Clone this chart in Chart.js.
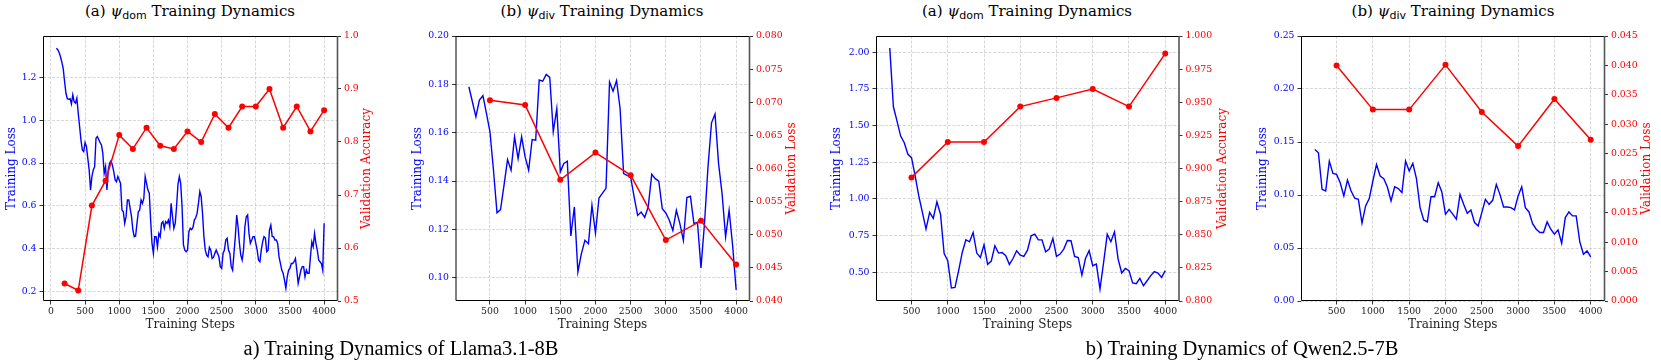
<!DOCTYPE html>
<html>
<head>
<meta charset="utf-8">
<script src="https://cdn.jsdelivr.net/npm/chart.js@4.4.1/dist/chart.umd.min.js"></script>
<style>
  body { margin: 0; background: #fff; }
  #wrap { position: relative; width: 1661px; height: 362px; overflow: hidden; background: #fff; }
  canvas { position: absolute; top: 0; }
  .ptitle { position: absolute; top: 2px; font-family: 'DejaVu Serif', serif; font-size: 15px; white-space: nowrap; transform: translateX(-50%); color: #000; }
  .ptitle i { font-family: 'DejaVu Serif', serif; }
  .ptitle sub { font-family: 'DejaVu Sans', sans-serif; font-size: 11px; vertical-align: -3px; }
  .caption { position: absolute; top: 337px; font-family: 'Liberation Serif', 'Times New Roman', serif; font-size: 20.5px; white-space: nowrap; transform: translateX(-50%); color: #000; }
</style>
</head>
<body>
<div id="wrap">
  <div class="ptitle" style="left:190px">(a) <i>ψ</i><sub>dom</sub> Training Dynamics</div>
  <div class="ptitle" style="left:602px">(b) <i>ψ</i><sub>div</sub> Training Dynamics</div>
  <div class="ptitle" style="left:1027px">(a) <i>ψ</i><sub>dom</sub> Training Dynamics</div>
  <div class="ptitle" style="left:1453px">(b) <i>ψ</i><sub>div</sub> Training Dynamics</div>
  <canvas id="llamaDom"></canvas>
  <canvas id="llamaDiv"></canvas>
  <canvas id="qwenDom"></canvas>
  <canvas id="qwenDiv"></canvas>
  <div class="caption" style="left:401px">a) Training Dynamics of Llama3.1-8B</div>
  <div class="caption" style="left:1242px">b) Training Dynamics of Qwen2.5-7B</div>
</div>
<script>
// ===========================
// Data
// ===========================

// Llama3.1-8B, psi_dom: training loss every 20 steps from 80 to 4000
const llamaDomLoss = [
  1.335, 1.328, 1.315, 1.295, 1.270, 1.240, 1.180, 1.125, 1.100, 1.097,
  1.100, 1.075, 1.118, 1.086, 1.079, 1.102, 1.032, 0.970, 0.907, 0.861,
  0.853, 0.895, 0.877, 0.822, 0.768, 0.674, 0.737, 0.768, 0.783, 0.915,
  0.923, 0.910, 0.895, 0.884, 0.845, 0.752, 0.783, 0.674, 0.768, 0.800,
  0.811, 0.790, 0.760, 0.721, 0.713, 0.737, 0.721, 0.705, 0.581, 0.573,
  0.519, 0.550, 0.628, 0.628, 0.589, 0.550, 0.488, 0.457, 0.460, 0.519,
  0.573, 0.581, 0.628, 0.612, 0.635, 0.737, 0.705, 0.674, 0.659, 0.534,
  0.426, 0.379, 0.457, 0.457, 0.410, 0.472, 0.457, 0.519, 0.527, 0.496,
  0.527, 0.519, 0.534, 0.503, 0.612, 0.550, 0.496, 0.519, 0.600, 0.700,
  0.737, 0.705, 0.597, 0.420, 0.394, 0.387, 0.394, 0.480, 0.496, 0.490,
  0.500, 0.534, 0.545, 0.565, 0.612, 0.667, 0.643, 0.565, 0.457, 0.394,
  0.371, 0.363, 0.407, 0.394, 0.355, 0.360, 0.379, 0.394, 0.379, 0.363,
  0.317, 0.309, 0.379, 0.394, 0.441, 0.449, 0.394, 0.379, 0.317, 0.301,
  0.379, 0.457, 0.558, 0.503, 0.426, 0.371, 0.348, 0.394, 0.503, 0.550,
  0.558, 0.472, 0.426, 0.441, 0.457, 0.457, 0.426, 0.394, 0.348, 0.340,
  0.394, 0.433, 0.457, 0.450, 0.387, 0.394, 0.488, 0.511, 0.457, 0.457,
  0.441, 0.441, 0.426, 0.363, 0.332, 0.301, 0.286, 0.254, 0.216, 0.270,
  0.301, 0.310, 0.332, 0.332, 0.340, 0.355, 0.301, 0.239, 0.270, 0.300,
  0.317, 0.317, 0.270, 0.301, 0.286, 0.286, 0.363, 0.433, 0.410, 0.472,
  0.426, 0.394, 0.348, 0.340, 0.332, 0.300, 0.519
];
const llamaDomValSteps = [200, 400, 600, 800, 1000, 1200, 1400, 1600, 1800, 2000,
  2200, 2400, 2600, 2800, 3000, 3200, 3400, 3600, 3800, 4000];
const llamaDomValAcc = [0.533, 0.520, 0.680, 0.727, 0.813, 0.787, 0.827, 0.793, 0.787, 0.820,
  0.800, 0.853, 0.827, 0.867, 0.867, 0.900, 0.827, 0.867, 0.820, 0.860];

// Llama3.1-8B, psi_div: training loss every 50 steps from 200 to 4000
const llamaDivLoss = [
  0.1790, 0.1728, 0.1666, 0.1735, 0.1753, 0.1680, 0.1604, 0.1445, 0.1269, 0.1282,
  0.1383, 0.1489, 0.1445, 0.1583, 0.1493, 0.1583, 0.1500, 0.1445, 0.1572, 0.1569,
  0.1818, 0.1813, 0.1841, 0.1829, 0.1604, 0.1700, 0.1438, 0.1473, 0.1482, 0.1173,
  0.1293, 0.1024, 0.1100, 0.1155, 0.1141, 0.1300, 0.1185, 0.1330, 0.1350, 0.1370,
  0.1810, 0.1772, 0.1815, 0.1700, 0.1431, 0.1424, 0.1417, 0.1334, 0.1258, 0.1272,
  0.1250, 0.1293, 0.1428, 0.1410, 0.1400, 0.1286, 0.1268, 0.1238, 0.1196, 0.1279,
  0.1224, 0.1155, 0.1332, 0.1337, 0.1224, 0.1230, 0.1041, 0.1224, 0.1459, 0.1641,
  0.1677, 0.1473, 0.1348, 0.1169, 0.1279, 0.1134, 0.0950
];
const valSteps = [500, 1000, 1500, 2000, 2500, 3000, 3500, 4000];
const llamaDivValLoss = [0.0703, 0.0696, 0.0583, 0.0624, 0.0590, 0.0492, 0.0521, 0.0455];

// Qwen2.5-7B, psi_dom: training loss every 50 steps from 200 to 4000
const qwenDomLoss = [
  2.029, 1.628, 1.530, 1.428, 1.383, 1.304, 1.281, 1.156, 1.020, 0.907,
  0.794, 0.907, 0.866, 0.979, 0.895, 0.627, 0.578, 0.392, 0.396, 0.510,
  0.634, 0.721, 0.707, 0.770, 0.630, 0.600, 0.686, 0.553, 0.575, 0.680,
  0.630, 0.634, 0.612, 0.553, 0.593, 0.646, 0.616, 0.607, 0.650, 0.748,
  0.759, 0.720, 0.720, 0.639, 0.657, 0.730, 0.607, 0.623, 0.657, 0.716,
  0.714, 0.607, 0.600, 0.480, 0.593, 0.646, 0.544, 0.555, 0.385, 0.566,
  0.759, 0.707, 0.775, 0.589, 0.494, 0.525, 0.510, 0.426, 0.421, 0.457,
  0.407, 0.441, 0.476, 0.503, 0.494, 0.464, 0.510
];
const qwenDomValAcc = [0.8933, 0.9200, 0.9200, 0.9467, 0.9533, 0.9600, 0.9467, 0.9867];

// Qwen2.5-7B, psi_div: training loss every 50 steps from 200 to 4000
const qwenDivLoss = [
  0.1429, 0.1398, 0.1053, 0.1038, 0.1320, 0.1204, 0.1194, 0.1116, 0.0991, 0.1141,
  0.1038, 0.0969, 0.0959, 0.0734, 0.0897, 0.0966, 0.1132, 0.1288, 0.1179, 0.1154,
  0.1075, 0.0944, 0.1078, 0.1060, 0.1022, 0.1320, 0.1226, 0.1298, 0.1154, 0.0881,
  0.0765, 0.0746, 0.0984, 0.0984, 0.1116, 0.1028, 0.0818, 0.0865, 0.0820, 0.0771,
  0.1006, 0.0912, 0.0828, 0.0859, 0.0740, 0.0708, 0.0834, 0.0959, 0.0912, 0.0950,
  0.1100, 0.1006, 0.0887, 0.0887, 0.0881, 0.0859, 0.0991, 0.1078, 0.0881, 0.0840,
  0.0730, 0.0677, 0.0646, 0.0646, 0.0746, 0.0677, 0.0630, 0.0671, 0.0545, 0.0787,
  0.0840, 0.0803, 0.0803, 0.0558, 0.0442, 0.0473, 0.0417
];
const qwenDivValLoss = [0.0400, 0.0325, 0.0325, 0.0401, 0.0321, 0.0263, 0.0343, 0.0274];

// Tick labels
const llamaDomXTicks = [0, 500, 1000, 1500, 2000, 2500, 3000, 3500, 4000];
const stepXTicks = [500, 1000, 1500, 2000, 2500, 3000, 3500, 4000];
const llamaDomLossTicks = [0.2, 0.4, 0.6, 0.8, 1.0, 1.2];
const llamaDomAccTicks = [0.5, 0.6, 0.7, 0.8, 0.9, 1.0];
const llamaDivLossTicks = [0.10, 0.12, 0.14, 0.16, 0.18, 0.20];
const llamaDivValTicks = [0.040, 0.045, 0.050, 0.055, 0.060, 0.065, 0.070, 0.075, 0.080];
const qwenDomLossTicks = [0.50, 0.75, 1.00, 1.25, 1.50, 1.75, 2.00];
const qwenDomAccTicks = [0.800, 0.825, 0.850, 0.875, 0.900, 0.925, 0.950, 0.975, 1.000];
const qwenDivLossTicks = [0.00, 0.05, 0.10, 0.15, 0.20, 0.25];
const qwenDivValTicks = [0.000, 0.005, 0.010, 0.015, 0.020, 0.025, 0.030, 0.035, 0.040, 0.045];

// training steps of the logged losses (regular logging interval)
function loggedSteps(first, every, count) {
    const out = [];
    for (let i = 0; i < count; i++) out.push(first + i * every);
    return out;
}

// ===========================
// Layout helpers
// ===========================

const PLOT_TOP = 36;
const PLOT_BOTTOM = 301;
const CANVAS_H = 340;

Chart.defaults.font.family = "'DejaVu Serif', serif";

const framePlugin = {
    id: 'frame',
    afterDraw(chart) {
        const { ctx, chartArea: a } = chart;
        ctx.save();
        ctx.strokeStyle = '#000';
        ctx.lineWidth = 1;
        ctx.beginPath();
        ctx.moveTo(a.right, a.top + 0.5);
        ctx.lineTo(a.left + 0.5, a.top + 0.5);
        ctx.lineTo(a.left + 0.5, a.bottom - 0.5);
        ctx.lineTo(a.right, a.bottom - 0.5);
        ctx.stroke();
        ctx.strokeStyle = '#555';
        ctx.lineWidth = 1.6;
        ctx.beginPath();
        ctx.moveTo(a.right, a.top);
        ctx.lineTo(a.right, a.bottom);
        ctx.stroke();
        ctx.restore();
    }
};

const rightTitlePlugin = {
    id: 'rightTitle',
    afterDraw(chart, args, opts) {
        if (!opts.text) return;
        const { ctx, chartArea: a } = chart;
        ctx.save();
        ctx.translate(a.right + opts.offset, (a.top + a.bottom) / 2);
        ctx.rotate(-Math.PI / 2);
        ctx.font = "12px 'DejaVu Serif'";
        ctx.fillStyle = opts.color;
        ctx.textAlign = 'center';
        ctx.textBaseline = 'middle';
        ctx.fillText(opts.text, 0, 0);
        ctx.restore();
    }
};

function fmt(decimals) {
    return v => Number(v).toFixed(decimals);
}

function makePanel(cfg) {
    const canvas = document.getElementById(cfg.id);
    const left = Math.floor(cfg.leftTitleX - 8);
    const right = Math.min(1661, Math.ceil(cfg.plotRight + 52));
    const width = right - left;
    canvas.width = width;
    canvas.height = CANVAS_H;
    canvas.style.left = left + 'px';
    canvas.style.width = width + 'px';
    canvas.style.height = CANVAS_H + 'px';

    const leftW = cfg.plotLeft - left;
    const rightW = right - cfg.plotRight;
    const titlePad = cfg.leftTitleX - 7.2 - left;

    const grid = {
        color: 'rgba(190, 190, 190, 0.75)',
        lineWidth: 0.8,
        tickColor: '#000',
        tickLength: 3.5,
        tickWidth: 0.8,
        tickBorderDash: []
    };
    const border = { display: false, dash: [3, 1.5] };

    return new Chart(canvas, {
        type: 'line',
        data: {
            datasets: [
                {
                    label: cfg.valLabel,
                    data: cfg.valSteps.map((s, i) => ({ x: s, y: cfg.valValues[i] })),
                    yAxisID: 'y1',
                    borderColor: '#ff0000',
                    backgroundColor: '#ff0000',
                    borderWidth: 1.5,
                    pointRadius: 3,
                    pointBorderWidth: 0,
                    tension: 0,
                    order: 0
                },
                {
                    label: 'Training Loss',
                    data: cfg.lossSteps.map((s, i) => ({ x: s, y: cfg.loss[i] })),
                    yAxisID: 'y',
                    borderColor: '#0000ff',
                    borderWidth: 1.4,
                    pointRadius: 0,
                    tension: 0,
                    order: 1
                }
            ]
        },
        options: {
            responsive: false,
            animation: false,
            devicePixelRatio: 1,
            layout: { padding: { top: PLOT_TOP, bottom: 0, left: 0, right: 0 } },
            plugins: {
                legend: { display: false },
                tooltip: { enabled: false },
                rightTitle: { text: cfg.valLabel, color: '#ff0000', offset: cfg.rightTitleX - cfg.plotRight }
            },
            scales: {
                x: {
                    type: 'linear',
                    min: cfg.xMin,
                    max: cfg.xMax,
                    afterBuildTicks: s => { s.ticks = cfg.xTicks.map(v => ({ value: v })); },
                    afterFit: s => { s.height = CANVAS_H - PLOT_BOTTOM; },
                    grid: grid,
                    border: border,
                    ticks: {
                        autoSkip: false, maxRotation: 0, padding: 2,
                        color: '#222', font: { size: 9.3 },
                        callback: v => String(v)
                    },
                    title: {
                        display: true, text: 'Training Steps', color: '#222',
                        font: { size: 12 }, padding: { top: 0, bottom: 7.8 }
                    }
                },
                y: {
                    position: 'left',
                    min: cfg.yMin,
                    max: cfg.yMax,
                    afterBuildTicks: s => { s.ticks = cfg.yTicks.map(v => ({ value: v })); },
                    afterFit: s => { s.width = leftW; },
                    grid: grid,
                    border: border,
                    ticks: {
                        autoSkip: false, padding: 3, color: '#0000ff',
                        font: { size: 9.3 }, callback: fmt(cfg.yDec)
                    },
                    title: {
                        display: true, text: 'Training Loss', color: '#0000ff',
                        font: { size: 12 }, padding: { top: titlePad, bottom: 0 }
                    }
                },
                y1: {
                    position: 'right',
                    min: cfg.y1Min,
                    max: cfg.y1Max,
                    afterBuildTicks: s => { s.ticks = cfg.y1Ticks.map(v => ({ value: v })); },
                    afterFit: s => { s.width = rightW; },
                    grid: Object.assign({}, grid, { drawOnChartArea: false }),
                    border: border,
                    ticks: {
                        autoSkip: false, padding: 3, color: '#ff0000',
                        font: { size: 9.3 }, callback: fmt(cfg.y1Dec)
                    }
                }
            }
        },
        plugins: [framePlugin, rightTitlePlugin]
    });
}

// ===========================
// Panels
// ===========================

makePanel({
    id: 'llamaDom', plotLeft: 43, plotRight: 337.5, leftTitleX: 11.7, rightTitleX: 366.7,
    lossSteps: loggedSteps(80, 20, llamaDomLoss.length), loss: llamaDomLoss,
    valSteps: llamaDomValSteps, valValues: llamaDomValAcc, valLabel: 'Validation Accuracy',
    xMin: -116, xMax: 4196, xTicks: llamaDomXTicks,
    yMin: 0.157, yMax: 1.392, yTicks: llamaDomLossTicks, yDec: 1,
    y1Min: 0.5, y1Max: 1.0, y1Ticks: llamaDomAccTicks, y1Dec: 1
});

makePanel({
    id: 'llamaDiv', plotLeft: 455.5, plotRight: 749.5, leftTitleX: 418.3, rightTitleX: 791.7,
    lossSteps: loggedSteps(200, 50, llamaDivLoss.length), loss: llamaDivLoss,
    valSteps: valSteps, valValues: llamaDivValLoss, valLabel: 'Validation Loss',
    xMin: 10, xMax: 4190, xTicks: stepXTicks,
    yMin: 0.0904, yMax: 0.20, yTicks: llamaDivLossTicks, yDec: 2,
    y1Min: 0.04, y1Max: 0.08, y1Ticks: llamaDivValTicks, y1Dec: 3
});

makePanel({
    id: 'qwenDom', plotLeft: 876, plotRight: 1179, leftTitleX: 837.3, rightTitleX: 1222.7,
    lossSteps: loggedSteps(200, 50, qwenDomLoss.length), loss: qwenDomLoss,
    valSteps: valSteps, valValues: qwenDomValAcc, valLabel: 'Validation Accuracy',
    xMin: 10, xMax: 4190, xTicks: stepXTicks,
    yMin: 0.303, yMax: 2.111, yTicks: qwenDomLossTicks, yDec: 2,
    y1Min: 0.8, y1Max: 1.0, y1Ticks: qwenDomAccTicks, y1Dec: 3
});

makePanel({
    id: 'qwenDiv', plotLeft: 1301, plotRight: 1604.5, leftTitleX: 1262.7, rightTitleX: 1647.3,
    lossSteps: loggedSteps(200, 50, qwenDivLoss.length), loss: qwenDivLoss,
    valSteps: valSteps, valValues: qwenDivValLoss, valLabel: 'Validation Loss',
    xMin: 10, xMax: 4190, xTicks: stepXTicks,
    yMin: 0, yMax: 0.25, yTicks: qwenDivLossTicks, yDec: 2,
    y1Min: 0, y1Max: 0.045, y1Ticks: qwenDivValTicks, y1Dec: 3
});
</script>
</body>
</html>
